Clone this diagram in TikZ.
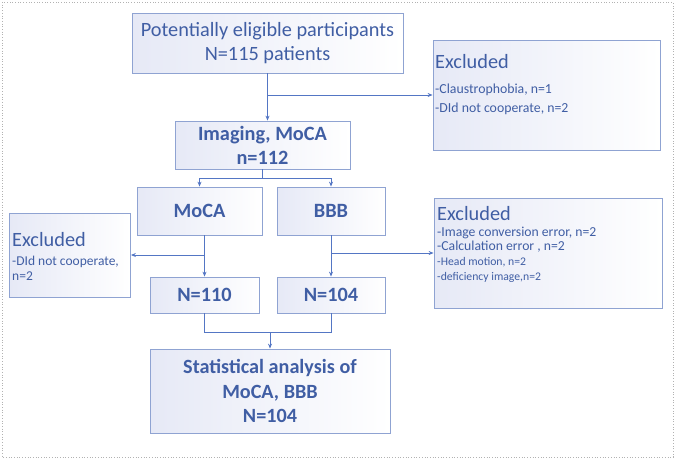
\documentclass[tikz,border=0pt]{standalone}
\usepackage{fontspec}
\setmainfont{Carlito}
\usetikzlibrary{arrows.meta}
\definecolor{txt}{RGB}{64,94,164}
\definecolor{bord}{RGB}{143,163,210}
\definecolor{ln}{RGB}{84,118,196}
\definecolor{shadeL}{RGB}{230,233,246}
\begin{document}
\begin{tikzpicture}[x=1pt,y=-1pt,
  box/.style={draw=bord, line width=0.8pt, left color=shadeL, right color=white, text=txt, align=center, inner sep=0pt},
  lbl/.style={anchor=west, inner sep=0pt, text=txt, align=left},
  conn/.style={draw=ln, line width=0.8pt},
  arr/.style={conn, -{Stealth[length=5pt,width=4pt]}},
  f19/.style={font=\fontsize{20.3}{24}\selectfont},
  f19b/.style={font=\fontsize{20.3}{24}\selectfont\bfseries},
  f18b/.style={font=\fontsize{20.2}{24.5}\selectfont\bfseries}
]
\useasboundingbox (0,0) rectangle (676,461);
\draw[gray!60, dotted, line width=0.7pt] (2,2) rectangle (673,457);

% main boxes
\node[box, f19, minimum width=271, minimum height=60] (top) at (267.5,43) {Potentially eligible participants\\N=115 patients};
\node[box, f19b, minimum width=175, minimum height=48] (img) at (262.5,145) {Imaging, MoCA\\n=112};
\node[box, f19b, minimum width=125, minimum height=48] (moca) at (199.5,211) {MoCA};
\node[box, f19b, minimum width=108, minimum height=48] (bbb) at (331,211) {BBB};
\node[box, f19b, minimum width=109, minimum height=36] (n110) at (204.5,295) {N=110};
\node[box, f19b, minimum width=108, minimum height=36] (n104) at (331,295) {N=104};
\node[box, f18b, minimum width=240, minimum height=84] (fin) at (270,391) {Statistical analysis of\\MoCA, BBB\\N=104};

% excluded boxes
\node[box, minimum width=227, minimum height=110] (ex1) at (546.5,95) {};
\node[lbl, f19] (ex1h) at (435,62) {Excluded};
\node[lbl, font=\fontsize{13.8}{15}\selectfont] (ex1a) at (435,90) {-Claustrophobia, n=1};
\node[lbl, font=\fontsize{13.8}{15}\selectfont] (ex1b) at (435,109) {-DId not cooperate, n=2};

\node[box, minimum width=228, minimum height=110] (ex2) at (548,253) {};
\node[lbl, f19] (ex2h) at (437,214) {Excluded};
\node[lbl, font=\fontsize{13.7}{15}\selectfont] (ex2a) at (437,233) {-Image conversion error, n=2};
\node[lbl, font=\fontsize{13.7}{15}\selectfont] (ex2b) at (437,247) {-Calculation error , n=2};
\node[lbl, font=\fontsize{11.7}{13}\selectfont] (ex2c) at (437,262) {-Head motion, n=2};
\node[lbl, font=\fontsize{11.7}{13}\selectfont] (ex2d) at (437,277) {-deficiency image,n=2};

\node[box, minimum width=121, minimum height=84] (exL) at (70,255) {};
\node[lbl, f19] (exLh) at (12,240) {Excluded};
\node[lbl, font=\fontsize{13.5}{15}\selectfont] (exLa) at (12,262) {-DId not cooperate,};
\node[lbl, font=\fontsize{13.5}{15}\selectfont] (exLb) at (12,276) {n=2};

% connectors
\draw[arr] (top.south) -- (top.south |- img.north);
\draw[arr] (top.south |- ex1.west) -- (ex1.west);

\coordinate (s1) at (img.south |- 0,178);
\draw[conn] (img.south) -- (s1);
\draw[conn] (moca.north |- s1) -- (bbb.north |- s1);
\draw[arr] (moca.north |- s1) -- (moca.north);
\draw[arr] (bbb.north |- s1) -- (bbb.north);

\draw[arr] (n110.north |- moca.south) -- (n110.north);
\draw[arr] (n110.north |- exL.east) -- (exL.east);
\draw[arr] (bbb.south) -- (n104.north);
\draw[arr] (bbb.south |- ex2.west) -- (ex2.west);

\coordinate (s2) at (fin.north |- 0,332);
\draw[conn] (n110.south) -- (n110.south |- s2) -- (n104.south |- s2) -- (n104.south);
\draw[arr] (s2) -- (fin.north);
\end{tikzpicture}
\end{document}
